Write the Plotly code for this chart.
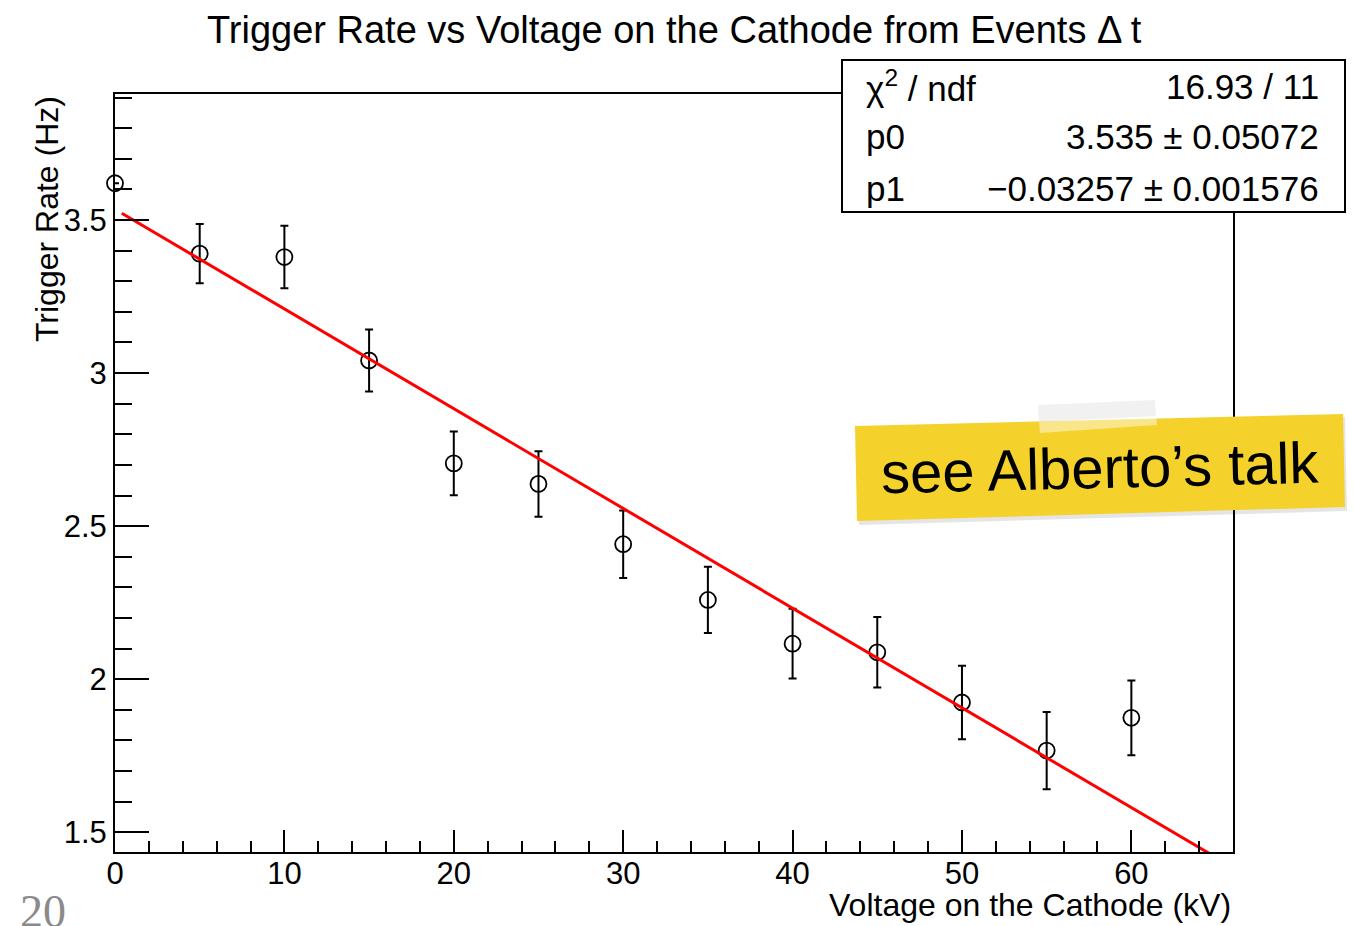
import plotly.graph_objects as go

# ---------------- data ----------------
voltage_kv = [0, 5, 10, 15, 20, 25, 30, 35, 40, 45, 50, 55, 60]
trigger_rate_hz = [3.620, 3.390, 3.379, 3.041, 2.705, 2.638, 2.441, 2.259, 2.116, 2.088, 1.924, 1.767, 1.874]
rate_error_hz = [0.0, 0.097, 0.102, 0.101, 0.104, 0.107, 0.110, 0.108, 0.114, 0.115, 0.120, 0.126, 0.122]

p0, p0_err = 3.535, 0.05072
p1, p1_err = -0.03257, 0.001576
chi2, ndf = 16.93, 11
fit_x = [0.4, 65.0]
fit_y = [p0 + p1 * x for x in fit_x]

x_ticks = [0, 10, 20, 30, 40, 50, 60]
y_ticks = [1.5, 2, 2.5, 3, 3.5]

# ---------------- layout helpers (pixel -> paper) ----------------
W, H = 1353, 926
L, R, T, B = 115, 1233, 94, 852
def px(x):
    return (x - L) / (R - L)
def py(y):
    return (B - y) / (B - T)

FONT = "Liberation Sans, Arial, Helvetica, sans-serif"

fig = go.Figure()
fig.add_trace(go.Scatter(
    x=voltage_kv, y=trigger_rate_hz, mode="markers",
    marker=dict(symbol="circle-open", size=16, color="black", line=dict(width=1.8, color="black")),
    error_y=dict(type="data", array=rate_error_hz, visible=True, color="black", thickness=2, width=4),
    showlegend=False, hoverinfo="x+y", cliponaxis=False,
))
fig.add_trace(go.Scatter(
    x=fit_x, y=fit_y, mode="lines", line=dict(color="#ff0000", width=3),
    showlegend=False,
))

axis_common = dict(
    showline=True, linecolor="black", linewidth=2, mirror=True,
    ticks="inside", tickcolor="black", tickwidth=2,
    showgrid=False, zeroline=False,
    tickfont=dict(family=FONT, size=31, color="black"),
)
fig.update_xaxes(
    range=[0, 66], tickvals=x_ticks, ticklen=22, ticklabelstandoff=-7,
    minor=dict(ticks="inside", ticklen=11, dtick=2, tick0=0, tickcolor="black", tickwidth=2),
    **axis_common,
)
fig.update_yaxes(
    range=[1.4357, 3.9115], tickvals=y_ticks, ticklen=34,
    minor=dict(ticks="inside", ticklen=17, dtick=0.1, tick0=0, tickcolor="black", tickwidth=2),
    **axis_common,
)

shapes = []
annotations = []

# stats box
shapes.append(dict(type="rect", xref="paper", yref="paper",
                   x0=px(842), x1=px(1345), y0=py(212), y1=py(60),
                   fillcolor="white", line=dict(color="black", width=2), layer="above"))
stat_rows = [
    ("χ<sup>2</sup> / ndf", f"{chi2:.2f} / {ndf}", 86),
    ("p0", f"{p0} ± {p0_err}", 136),
    ("p1", f"−{abs(p1)} ± {p1_err}", 188),
]
for label, val, yc in stat_rows:
    annotations.append(dict(xref="paper", yref="paper", x=px(864), y=py(yc), text=label,
                            xanchor="left", yanchor="middle", showarrow=False,
                            font=dict(family=FONT, size=35, color="black")))
    annotations.append(dict(xref="paper", yref="paper", x=px(1321), y=py(yc), text=val,
                            xanchor="right", yanchor="middle", showarrow=False,
                            font=dict(family=FONT, size=35, color="black")))

# sticky note
def poly(pts):
    s = "M " + " L ".join(f"{px(a):.5f},{py(b):.5f}" for a, b in pts) + " Z"
    return s
note = [(855, 426), (1343, 414), (1345, 507), (857, 521)]
shadow = [(858, 429), (1345, 417), (1347, 511), (859, 525)]
shapes.append(dict(type="path", xref="paper", yref="paper", path=poly(shadow),
                   fillcolor="rgba(0,0,0,0.10)", line=dict(width=0), layer="above"))
shapes.append(dict(type="path", xref="paper", yref="paper", path=poly(note),
                   fillcolor="#f4d22b", line=dict(width=0), layer="above"))
tape_top = [(1038, 405), (1155, 400), (1156, 416), (1039, 422)]
tape_low = [(1039, 422), (1156, 416), (1157, 425), (1040, 433)]
shapes.append(dict(type="path", xref="paper", yref="paper", path=poly(tape_top),
                   fillcolor="rgba(225,225,225,0.45)", line=dict(width=0), layer="above"))
shapes.append(dict(type="path", xref="paper", yref="paper", path=poly(tape_low),
                   fillcolor="rgba(255,255,255,0.45)", line=dict(width=0), layer="above"))
annotations.append(dict(xref="paper", yref="paper", x=px(1100), y=py(467),
                        text="see Alberto’s talk", textangle=-1.4,
                        xanchor="center", yanchor="middle", showarrow=False,
                        font=dict(family=FONT, size=58, color="black")))

# titles
annotations.append(dict(xref="paper", yref="paper", x=px(674), y=py(30),
                        text="Trigger Rate vs Voltage on the Cathode from Events Δ t",
                        xanchor="center", yanchor="middle", showarrow=False,
                        font=dict(family=FONT, size=38, color="black")))
annotations.append(dict(xref="paper", yref="paper", x=1.0, y=py(905),
                        text="Voltage on the Cathode (kV)",
                        xanchor="right", yanchor="middle", showarrow=False,
                        font=dict(family=FONT, size=32, color="black")))
annotations.append(dict(xref="paper", yref="paper", x=px(47), y=1.0,
                        text="Trigger Rate (Hz)", textangle=-90,
                        xanchor="center", yanchor="top", showarrow=False,
                        font=dict(family=FONT, size=32, color="black")))
# slide number
annotations.append(dict(xref="paper", yref="paper", x=px(18), y=py(884),
                        text="20", xanchor="left", yanchor="top", showarrow=False,
                        font=dict(family="Liberation Serif, Times New Roman, serif", size=46, color="#8a8a8a")))

fig.update_layout(
    width=W, height=H,
    margin=dict(l=L, r=W - R, t=T, b=H - B, pad=0),
    plot_bgcolor="white", paper_bgcolor="white",
    shapes=shapes, annotations=annotations,
    showlegend=False,
)
fig.write_html("out.html")
